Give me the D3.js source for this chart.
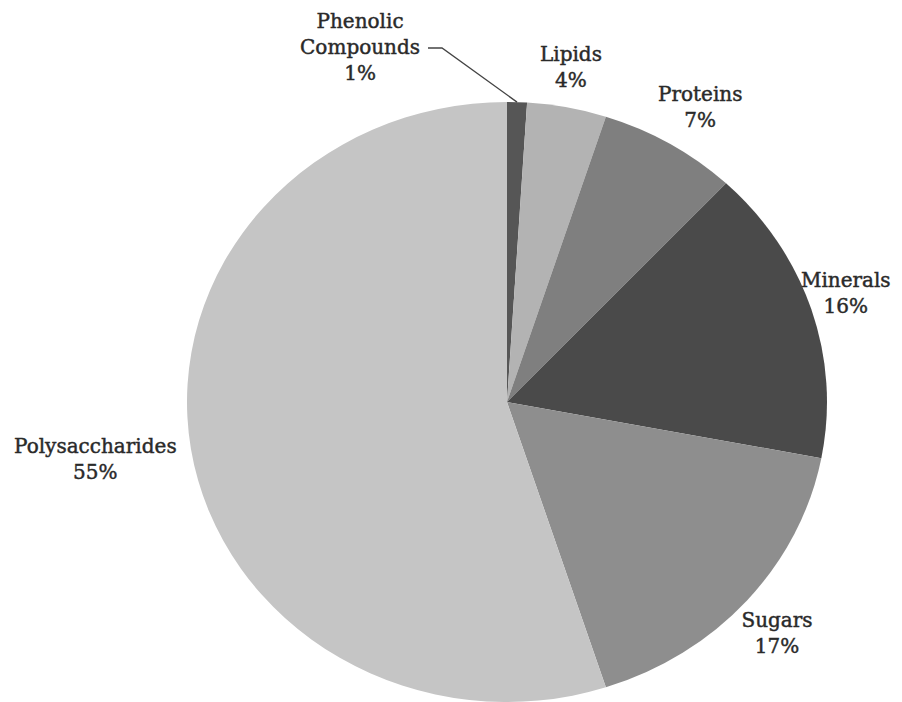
<!DOCTYPE html>
<html>
<head>
<meta charset="utf-8">
<script src="https://cdn.jsdelivr.net/npm/d3@7"></script>
<style>
  body { margin: 0; background: #fff; }
  text { font-family: "DejaVu Serif", "Liberation Serif", serif; fill: #2a2a2a; }
</style>
</head>
<body>
<svg id="chart"></svg>
<script>
// composition (%), clockwise from 12 o'clock
const categories = ["Phenolic Compounds", "Lipids", "Proteins", "Minerals", "Sugars", "Polysaccharides"];
const values = [1, 4, 7, 16, 17, 55];
const labelLines = [["Phenolic", "Compounds", "1%"], ["Lipids", "4%"], ["Proteins", "7%"],
      ["Minerals", "16%"], ["Sugars", "17%"], ["Polysaccharides", "55%"]];
const fills = ["#565656", "#b3b3b3", "#7f7f7f", "#4a4a4a", "#8e8e8e", "#c5c5c5"];

const WIDTH = 902, HEIGHT = 702;
const cx = 507, cy = 402;
const R = 300;           // vertical radius
const stretch = 320 / R; // picture is a bit wider than tall

// label placement: distance factor from centre + pixel nudge
const labelPlace = [
      { k: 1.0, dx: -157, dy: -54 },
      { k: 1.1, dx: -2, dy: -10 },
      { k: 1.1, dx: 14, dy: -10 },
      { k: 1.1, dx: 4, dy: -6 },
      { k: 1.1, dx: 6, dy: 14 },
      { k: 1.1, dx: -64, dy: 6 }];

const svg = d3.select("#chart")
      .attr("width", WIDTH)
      .attr("height", HEIGHT);

const data = categories.map((c, i) => ({ name: c, value: values[i], i }));

const pie = d3.pie().sort(null).value(d => d.value);
const arcs = pie(data);
const arc = d3.arc().innerRadius(0).outerRadius(R);

const pieG = svg.append("g")
      .attr("transform", `translate(${cx},${cy}) scale(${stretch},1)`);

pieG.selectAll(".slice")
      .data(arcs)
      .enter()
      .append("path")
      .attr("class", "slice")
      .attr("d", arc)
      .style("fill", d => fills[d.data.i]);

// label anchor from the slice's mid angle
function anchor(d) {
      const a = (d.startAngle + d.endAngle) / 2;
      const p = labelPlace[d.data.i];
      return [cx + Math.sin(a) * R * stretch * p.k + p.dx,
            cy - Math.cos(a) * R * p.k + p.dy];
}

const lineH = 26;
const labels = svg.selectAll(".label")
      .data(arcs)
      .enter()
      .append("text")
      .attr("class", "label")
      .attr("text-anchor", "middle")
      .style("font-size", "20px")
      .style("stroke", "#2a2a2a")
      .style("stroke-width", 0.45)
      .attr("transform", d => {
            const [x, y] = anchor(d);
            const n = labelLines[d.data.i].length;
            return `translate(${x},${y - (n - 1) * lineH / 2 + 6})`;
      });

labels.selectAll("tspan")
      .data(d => labelLines[d.data.i])
      .enter()
      .append("tspan")
      .attr("x", 0)
      .attr("dy", (d, j) => j == 0 ? 0 : lineH)
      .text(d => d);

// leader for the tiny phenolic slice
const ph = arcs[0];
const phA = (ph.startAngle + ph.endAngle) / 2;
const px = cx + Math.sin(phA) * R * stretch, py = cy - Math.cos(phA) * R;
svg.append("polyline")
      .attr("points", `428,48 442,48 ${px},${py}`)
      .style("fill", "none")
      .style("stroke", "#444")
      .style("stroke-width", 1.3);
</script>
</body>
</html>
